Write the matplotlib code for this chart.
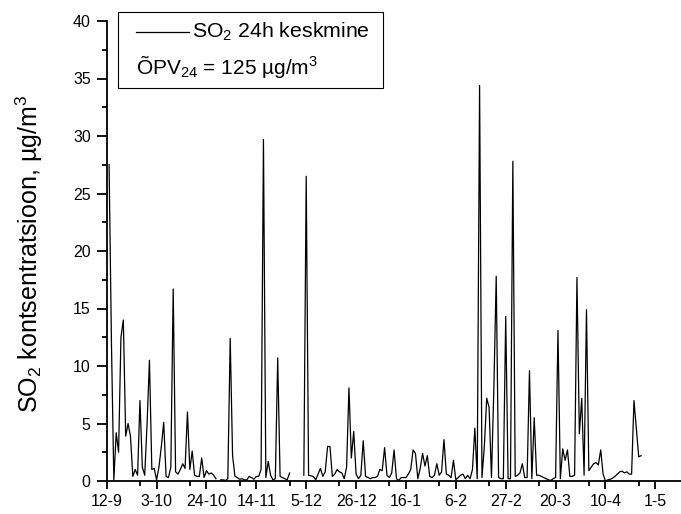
import numpy as np
import matplotlib
matplotlib.use("Agg")
import matplotlib.pyplot as plt
from matplotlib.patches import Rectangle
from matplotlib.lines import Line2D

plt.rcParams['font.family'] = ['Liberation Sans', 'DejaVu Sans']
plt.rcParams['mathtext.fontset'] = 'custom'
plt.rcParams['mathtext.rm'] = 'Liberation Sans'
plt.rcParams['mathtext.it'] = 'Liberation Sans:italic'
plt.rcParams['mathtext.bf'] = 'Liberation Sans:bold'

nan = np.nan

# daily SO2 means, ug/m3, one list per month (first day is 12-9)
sep = [nan, 27.5, 12.0, 0.1, 4.2, 2.5, 12.5, 14.0, 3.9, 5.0, 3.9, 0.4, 1.0, 0.5,
       7.0, 1.2, 0.5, 5.0, 10.5]
okt = [1.0, 1.1, 0.1, 1.2, 3.0, 5.1, 0.4, 0.3, 1.2, 16.7, 0.8, 0.6, 1.0, 1.5, 1.1,
       6.0, 1.0, 2.6, 0.5, 0.4, 0.4, 2.0, 0.3, 0.9, 0.6, 0.7, 0.5, 0.2, nan, 0.1, 0.1]
nov = [0.05, 0.2, 12.4, 2.2, 0.4, 0.3, 0.15, 0.2, 0.1, 0.1, 0.4, 0.3, 0.15, 0.4,
       0.4, 1.0, 29.7, 0.3, 1.7, 0.5, 0.1, 0.2, 10.7, 0.4, 0.3, 0.2, 0.1, 0.7, nan, nan]
dets = [nan, nan, nan, 0.5, 26.5, 0.5, 0.45, 0.4, 0.1, 0.6, 1.1, 0.4, 0.8, 3.0, 3.0,
        0.4, 0.6, 1.0, 0.8, 0.7, 0.2, 1.2, 8.1, 2.0, 4.3, 0.6, 0.2, 0.5, 3.5, 0.4, 0.3]
jaan = [0.2, 0.3, 0.3, 0.4, 1.0, 0.9, 2.9, 0.5, 0.3, 0.7, 2.7, 0.2, 0.05, 0.3, 0.3,
        0.3, 0.6, 1.0, 2.7, 2.4, 0.2, 1.1, 2.4, 1.3, 2.2, 0.4, 0.3, 0.5, 1.5, 0.5, 0.8]
veeb = [3.6, 0.6, 0.5, 0.3, 1.8, 0.1, 0.3, 0.5, 0.6, 0.2, 0.5, 0.2, 1.0, 4.6, 0.2,
        34.4, 0.3, 3.0, 7.2, 6.4, 0.3, 8.0, 17.8, 0.3, 0.2, 0.2, 14.3, 0.2]
marts = [0.2, 27.8, 0.4, 0.5, 0.7, 1.5, 0.3, 0.3, 9.6, 0.2, 5.5, 0.5, 0.5, 0.4, 0.3,
         0.2, 0.1, 0.05, 0.2, 0.3, 13.1, 0.2, 2.8, 1.8, 2.7, 0.4, 0.4, 0.5, 17.7, 4.1, 7.2]
apr = [0.5, 14.9, 0.9, 1.2, 1.5, 1.6, 1.4, 2.7, 0.6, 0.0, 0.1, 0.15, 0.25, 0.4, 0.6,
       0.8, 0.85, 0.7, 0.8, 0.6, 0.6, 7.0, 4.5, 2.1, 2.2]

date_labels = ["12-9", "3-10", "24-10", "14-11", "5-12", "26-12", "16-1",
               "6-2", "27-2", "20-3", "10-4", "1-5"]

so2 = np.concatenate([sep, okt, nov, dets, jaan, veeb, marts, apr])
days = np.arange(len(so2))

fig = plt.figure(figsize=(6.81, 5.14), dpi=100)
ax = fig.add_axes([106.7 / 681, 33 / 514, 574.3 / 681, 460 / 514])

ax.plot(days, so2, color='black', lw=0.9)

ax.set_xlim(0.6, 241.8)
ax.set_ylim(0, 40)

major_x = np.arange(len(date_labels)) * 21
ax.set_xticks(major_x)
ax.set_xticklabels(date_labels)
ax.set_xticks(major_x[:-1] + 14, minor=True)
ax.set_yticks(np.arange(0, 41, 5))
ax.set_yticks(np.arange(0, 40, 2.5), minor=True)

for s in ['top', 'right']:
    ax.spines[s].set_visible(False)
for s in ['left', 'bottom']:
    ax.spines[s].set_linewidth(1.3)

ax.tick_params(which='major', direction='out', width=1.3, labelsize=11.5)
ax.tick_params(axis='x', which='major', length=6, pad=3.5)
ax.tick_params(axis='y', which='major', length=7.5, pad=4)
ax.tick_params(which='minor', direction='out', length=3.5, width=1.3)

ax.set_ylabel('SO$_2$ kontsentratsioon, µg/m$^3$', fontsize=18)
ax.yaxis.label.set(va='center', ha='center')
ax.yaxis.set_label_coords(-0.134, 0.493)

# legend box drawn by hand (second row has no line sample)
fig.patches.append(Rectangle((117.7 / 681, 1 - 88.3 / 514), 265.6 / 681, 76 / 514,
                             transform=fig.transFigure, facecolor='white',
                             edgecolor='black', lw=0.8, zorder=5))
fig.lines.append(Line2D([135.7 / 681, 189 / 681], [1 - 31.7 / 514] * 2,
                        transform=fig.transFigure, color='black', lw=0.9, zorder=6))
fig.text(192.5 / 681, 1 - 37.3 / 514, 'SO$_2$ 24h keskmine', fontsize=15.3,
         va='baseline', ha='left', zorder=6)
fig.text(135.7 / 681, 1 - 74 / 514, 'ÕPV$_{24}$ = 125 µg/m$^3$', fontsize=15,
         va='baseline', ha='left', zorder=6)

fig.savefig('out.png', dpi=100)
